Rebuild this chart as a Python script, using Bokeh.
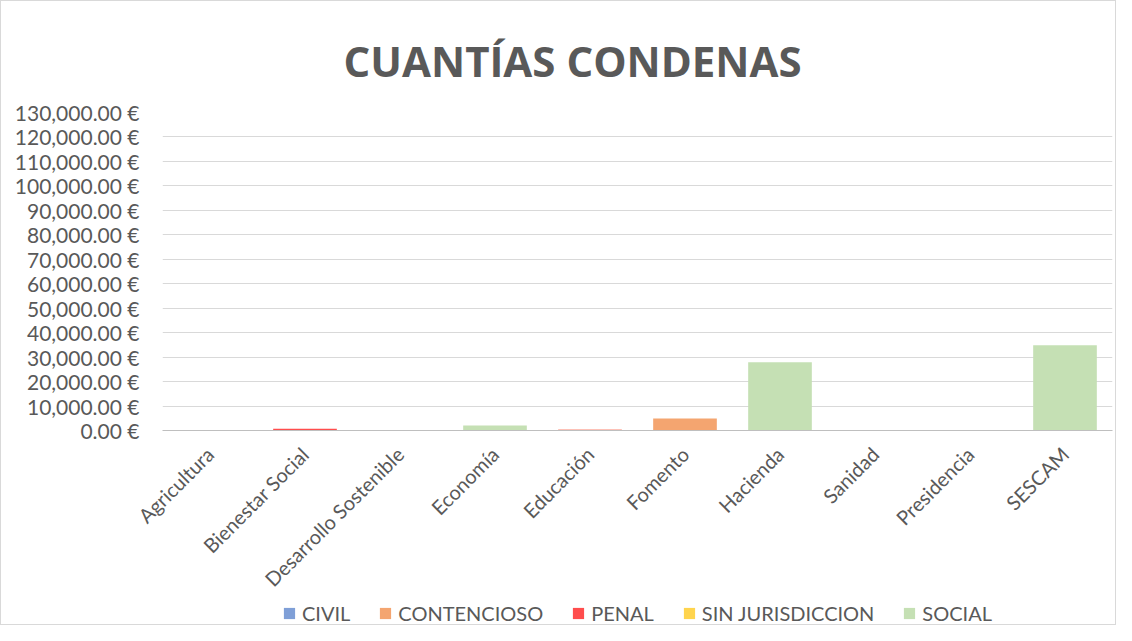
from bokeh.plotting import figure
from bokeh.models import Range1d, FixedTicker, CustomJSTickFormatter, Legend, LegendItem
from bokeh.layouts import column
from bokeh.embed import file_html
from bokeh.resources import INLINE
import math

categories = ["Agricultura", "Bienestar Social", "Desarrollo Sostenible", "Economía", "Educación",
              "Fomento", "Hacienda", "Sanidad", "Presidencia", "SESCAM"]
series = ["CIVIL", "CONTENCIOSO", "PENAL", "SIN JURISDICCION", "SOCIAL"]
civil = [0, 0, 0, 0, 0, 0, 0, 0, 0, 0]
contencioso = [0, 0, 0, 0, 300, 4900, 0, 0, 0, 0]
penal = [0, 700, 0, 0, 150, 0, 0, 0, 0, 0]
sin_jurisdiccion = [0, 0, 0, 0, 0, 0, 0, 0, 0, 0]
social = [0, 0, 0, 2000, 0, 0, 27900, 0, 0, 34800]
colors = ["#7F9FD7", "#F4A570", "#FF4D4D", "#FFD44D", "#C5E0B4"]
y_ticks = list(range(0, 130001, 10000))

data = {"cat": categories, "CIVIL": civil, "CONTENCIOSO": contencioso, "PENAL": penal,
        "SIN JURISDICCION": sin_jurisdiccion, "SOCIAL": social}

TXT = "#595959"
FONT = "Lato"

p = figure(x_range=categories, y_range=Range1d(0, 130000), width=1114, height=601,
           output_backend="svg", toolbar_location=None,
           min_border_left=161, min_border_right=3, min_border_top=111, min_border_bottom=171)

p.vbar_stack(series, x="cat", width=0.67, color=colors, source=data, line_color=None)

p.title.text = "CUANTÍAS CONDENAS"
p.title.align = "left"
p.title.text_font = "Open Sans"
p.title.text_font_size = "42px"
p.title.text_font_style = "bold"
p.title.text_color = TXT
p.title.offset = 181
p.title.standoff = 48

p.outline_line_color = None
p.xgrid.grid_line_color = None
p.ygrid.grid_line_color = "#D9D9D9"
p.ygrid.grid_line_width = 1

p.yaxis.ticker = FixedTicker(ticks=y_ticks)
p.yaxis.formatter = CustomJSTickFormatter(code="""
return tick.toLocaleString('en-US', {minimumFractionDigits: 2, maximumFractionDigits: 2}) + ' €';
""")
p.yaxis.axis_line_color = None
p.yaxis.major_tick_line_color = None
p.yaxis.minor_tick_line_color = None
p.yaxis.major_label_text_font = FONT
p.yaxis.major_label_text_font_size = "21px"
p.yaxis.major_label_text_color = TXT
p.yaxis.major_label_standoff = 17

p.xaxis.axis_line_color = "#BFBFBF"
p.xaxis.axis_line_width = 1
p.xaxis.major_tick_line_color = None
p.xaxis.minor_tick_line_color = None
p.xaxis.major_label_orientation = math.pi / 4
p.xaxis.major_label_text_font = FONT
p.xaxis.major_label_text_font_size = "20px"
p.xaxis.major_label_text_color = TXT
p.xaxis.major_label_standoff = 14

# legend strip under the chart
p2 = figure(width=1114, height=22, x_range=Range1d(0, 1), y_range=Range1d(0, 1),
            output_backend="svg", toolbar_location=None, x_axis_type=None, y_axis_type=None,
            min_border_left=40, min_border_right=0, min_border_top=0, min_border_bottom=0)
p2.outline_line_color = None
p2.grid.visible = False
leg_renderers = [p2.vbar(x=[0], top=[0], width=0.0, color=c, line_color=None) for c in colors]
items = [LegendItem(label=s, renderers=[r]) for s, r in zip(series, leg_renderers)]
legend = Legend(items=items, orientation="horizontal", location="center",
                label_text_font=FONT, label_text_font_size="20px", label_text_color=TXT,
                glyph_width=14, glyph_height=14, spacing=28, label_standoff=6,
                border_line_color=None, background_fill_alpha=0, padding=0, margin=0)
p2.add_layout(legend, "center")

layout = column(p, p2, spacing=0, styles={"border": "1px solid #D9D9D9"})

open("out.html", "w").write(file_html(layout, INLINE))
